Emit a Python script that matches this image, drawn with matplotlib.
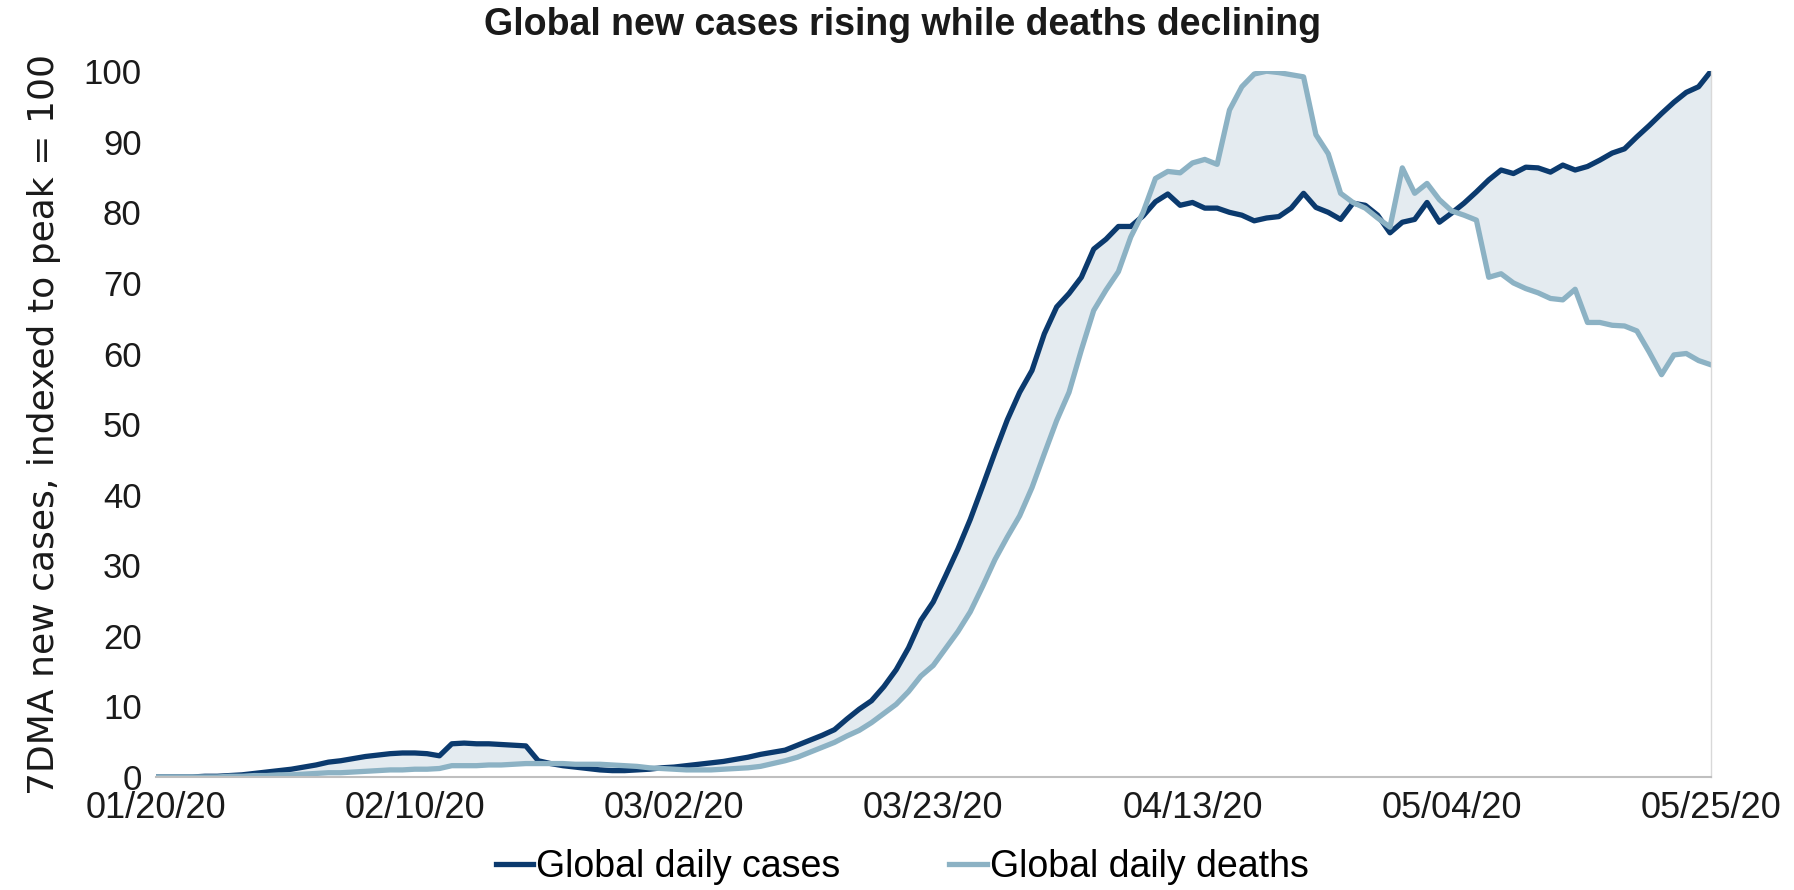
import matplotlib
matplotlib.use("Agg")
import matplotlib.pyplot as plt
import pandas as pd

# daily dates, 7DMA indexed to peak = 100
dates = pd.date_range("2020-01-20", "2020-05-25", freq="D")

cases = [
    0.0, 0.0, 0.0, 0.0, 0.1, 0.1, 0.2, 0.3, 0.5, 0.7,
    0.9, 1.1, 1.4, 1.7, 2.1, 2.3, 2.6, 2.9, 3.1, 3.3,
    3.4, 3.4, 3.3, 3.0, 4.7, 4.8, 4.7, 4.7, 4.6, 4.5,
    4.4, 2.3, 1.9, 1.6, 1.4, 1.2, 1.0, 0.9, 0.9, 1.0,
    1.1, 1.3, 1.4, 1.6, 1.8, 2.0, 2.2, 2.5, 2.8, 3.2,
    3.5, 3.8, 4.5, 5.2, 5.9, 6.7, 8.2, 9.6, 10.8, 12.8,
    15.2, 18.3, 22.2, 24.8, 28.5, 32.3, 36.5, 41.2, 46.0, 50.6,
    54.5, 57.6, 62.8, 66.6, 68.5, 70.8, 74.8, 76.2, 78.0, 78.0,
    79.5, 81.5, 82.6, 81.0, 81.4, 80.6, 80.6, 80.0, 79.6, 78.8,
    79.2, 79.4, 80.6, 82.7, 80.7, 80.0, 79.0, 81.3, 81.0, 79.6,
    77.1, 78.6, 79.0, 81.4, 78.6, 79.9, 81.3, 82.9, 84.6, 86.0,
    85.5, 86.4, 86.3, 85.7, 86.7, 86.0, 86.5, 87.4, 88.4, 89.0,
    90.7, 92.3, 94.0, 95.6, 97.0, 97.8, 100.0,
]

deaths = [
    0.0, 0.0, 0.0, 0.0, 0.0, 0.0, 0.1, 0.1, 0.2, 0.2,
    0.3, 0.3, 0.4, 0.5, 0.6, 0.6, 0.7, 0.8, 0.9, 1.0,
    1.0, 1.1, 1.1, 1.2, 1.6, 1.6, 1.6, 1.7, 1.7, 1.8,
    1.9, 1.9, 1.9, 1.9, 1.8, 1.8, 1.8, 1.7, 1.6, 1.5,
    1.3, 1.2, 1.1, 1.0, 1.0, 1.0, 1.1, 1.2, 1.3, 1.5,
    1.9, 2.3, 2.8, 3.5, 4.2, 4.9, 5.8, 6.6, 7.7, 9.0,
    10.3, 12.1, 14.3, 15.8, 18.2, 20.6, 23.4, 27.0, 30.8, 34.0,
    37.0, 41.0, 45.8, 50.5, 54.5, 60.5, 66.1, 69.0, 71.6, 76.5,
    80.0, 84.8, 85.8, 85.6, 87.0, 87.5, 86.8, 94.5, 97.8, 99.6,
    100.0, 99.8, 99.5, 99.2, 91.0, 88.3, 82.7, 81.4, 80.6, 79.2,
    77.9, 86.3, 82.7, 84.1, 81.8, 80.2, 79.6, 78.9, 70.8, 71.3,
    70.0, 69.2, 68.6, 67.8, 67.6, 69.1, 64.4, 64.4, 64.0, 63.9,
    63.2, 60.2, 57.0, 59.8, 60.0, 59.0, 58.4,
]

yticks = [0, 10, 20, 30, 40, 50, 60, 70, 80, 90, 100]

plt.rcParams["font.family"] = ["Liberation Sans", "DejaVu Sans"]

fig = plt.figure(figsize=(17.94, 8.9), dpi=100)
ax = fig.add_axes([0.0867, 0.127, 0.867, 0.793])

ax.fill_between(dates, cases, deaths, color="#e4ebf0", linewidth=0)
ax.plot(dates, cases, color="#0b3a6e", linewidth=3.8, label="Global daily cases")
ax.plot(dates, deaths, color="#8cb2c4", linewidth=3.8, label="Global daily deaths")

ax.set_xlim(dates[0], dates[-1])
ax.set_ylim(0, 100)
ax.set_yticks(yticks)
ax.set_yticklabels([str(t) for t in yticks], fontsize=25)
xt = dates[::21]
ax.set_xticks(xt)
ax.set_xticklabels([d.strftime("%m/%d/%y") for d in xt], fontsize=26)
ax.tick_params(axis="both", length=0, colors="#1a1a1a")
ax.tick_params(axis="x", pad=10)
ax.tick_params(axis="y", pad=10)

for s in ["top", "left"]:
    ax.spines[s].set_visible(False)
ax.spines["bottom"].set_color("#bfbfbf")
ax.spines["bottom"].set_linewidth(1.5)
ax.spines["right"].set_color("#d9d9d9")
ax.spines["right"].set_linewidth(1.0)

ax.set_ylabel("7DMA new cases, indexed to peak = 100", family=["DejaVu Sans"],
              fontsize=26, color="#1a1a1a", labelpad=16)

fig.suptitle("Global new cases rising while deaths declining", x=0.503, y=0.972,
             fontsize=27, fontweight="bold", color="#1a1a1a", va="center")

fig.legend(loc="center", bbox_to_anchor=(0.503, 0.026), ncol=2, frameon=False,
           fontsize=27, handlelength=1.0, handletextpad=0.08, columnspacing=2.9,
           borderpad=0.1)

fig.savefig("out.png", dpi=100)
